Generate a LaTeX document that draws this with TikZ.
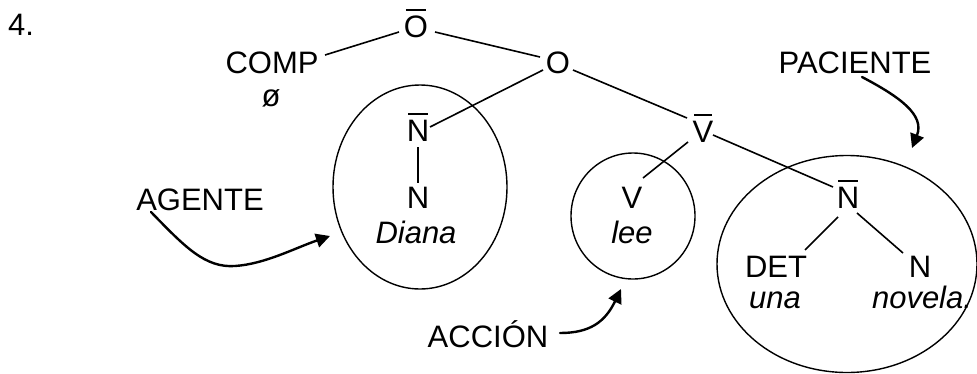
\documentclass[tikz,border=0pt]{standalone}
\usepackage{fontspec}
\setmainfont{Liberation Sans}
\usetikzlibrary{arrows.meta,shapes.geometric}
\newcommand\ovl[1]{\setbox0\hbox{#1}\vbox{\offinterlineskip\hbox to\wd0{\hss\vrule width 0.85\wd0 height 1.8pt depth 0pt\hss}\kern 4.5pt\box0}}
\begin{document}
\begin{tikzpicture}[x=1pt,y=-1pt,
  lbl/.style={font=\fontsize{31}{36}\selectfont, inner sep=0pt, anchor=base},
  it/.style={lbl, font=\fontsize{31}{36}\selectfont\itshape},
  tree/.style={line width=1.6pt},
  ring/.style={draw, ellipse, line width=1.4pt, inner sep=0pt},
  arr/.style={line width=2.4pt, line cap=round, -{Triangle[length=14pt,width=14pt]}}]
\useasboundingbox (0,0) rectangle (977,373);
% rings
\node[ring, minimum width=174pt, minimum height=204pt] (agring) at (420,187) {};
\node[ring, minimum width=124pt, minimum height=126pt] (acring) at (633,216) {};
\node[ring, minimum width=260pt, minimum height=217pt] (paring) at (847,264) {};
% labels
\node[lbl, anchor=base west] (num) at (8,35) {4.};
\node[lbl] (obar) at (416,37) {\ovl{O}};
\node[lbl] (comp) at (272,73) {COMP};
\node[lbl] (null) at (271,106) {ø};
\node[lbl] (o) at (558,73) {O};
\node[lbl] (nbarl) at (418,141) {\ovl{N}};
\node[lbl] (nl) at (418,208) {N};
\node[it] (diana) at (416,243) {Diana};
\node[lbl] (vbar) at (703,142) {\ovl{V}};
\node[lbl] (v) at (632,208) {V};
\node[it] (lee) at (632,243) {lee};
\node[lbl] (nbarr) at (848,208) {\ovl{N}};
\node[lbl] (det) at (776,277) {DET};
\node[it] (una) at (775,308) {una};
\node[lbl] (nr) at (920,277) {N};
\node[it] (novela) at (922,308) {novela.};
\node[lbl] (paciente) at (855,73) {PACIENTE};
\node[lbl] (agente) at (200,210) {AGENTE};
\node[lbl] (accion) at (488,347) {ACCIÓN};
% tree branches
\draw[tree] ([shift={(53,-18)}]comp.base) -- ([shift={(-17,-5)}]obar.base);
\draw[tree] ([shift={(19,-5)}]obar.base) -- ([shift={(-18,-16)}]o.base);
\draw[tree] ([shift={(-15,-3)}]o.base) -- ([shift={(12,-14)}]nbarl.base);
\draw[tree] ([shift={(15,-3)}]o.base) -- ([shift={(-16,-24)}]vbar.base);
\draw[tree] ([shift={(-15,0)}]vbar.base) -- ([shift={(11,-30)}]v.base);
\draw[tree] ([shift={(10,-7)}]vbar.base) -- ([shift={(-15,-21)}]nbarr.base);
\draw[tree] ([shift={(0,6)}]nbarl.base) -- ([shift={(0,-25)}]nl.base);
\draw[tree] ([shift={(-10,9)}]nbarr.base) -- ([shift={(29,-27)}]det.base);
\draw[tree] ([shift={(9,5)}]nbarr.base) -- ([shift={(-17,-24)}]nr.base);
% arrows
\coordinate (agtip) at (330,236);
\coordinate (patip) at (912,148);
\coordinate (actip) at (621,289);
\draw[arr] ([shift={(-49,2)}]agente.base) .. controls (185,247) and (205,268) .. (235,266) .. controls (265,264) and (295,248) .. (agtip);
\draw[arr] ([shift={(7,4)}]paciente.base) .. controls (900,97) and (925,115) .. (patip);
\draw[arr] ([shift={(72,-14)}]accion.base) .. controls (590,333) and (605,322) .. (actip);
\end{tikzpicture}
\end{document}
